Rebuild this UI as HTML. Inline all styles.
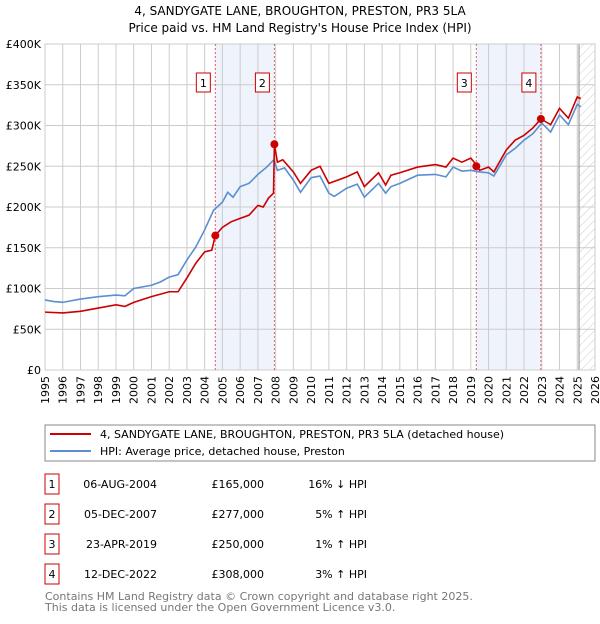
<!DOCTYPE html>
<html><head><meta charset="utf-8"><style>
body{margin:0;background:#fff;font-family:"DejaVu Sans","Liberation Sans",sans-serif;}
svg text{font-family:"DejaVu Sans","Liberation Sans",sans-serif;}
</style></head><body>
<svg id="c" width="600" height="620" xmlns="http://www.w3.org/2000/svg">
<defs><pattern id="hatch" patternUnits="userSpaceOnUse" width="6" height="6" patternTransform="rotate(45)"><line x1="0" y1="0" x2="0" y2="6" stroke="#ccc" stroke-width="1"/></pattern></defs>
<text x="300" y="15" text-anchor="middle" font-size="12">4, SANDYGATE LANE, BROUGHTON, PRESTON, PR3 5LA</text>
<text x="300" y="32" text-anchor="middle" font-size="12">Price paid vs. HM Land Registry's House Price Index (HPI)</text>
<g id="plot"></g>
<g>
<rect x="45" y="425" width="550" height="36" fill="#fff" stroke="#888"/>
<line x1="50" y1="434" x2="91" y2="434" stroke="#cc0000" stroke-width="2"/>
<text x="100" y="438" font-size="11">4, SANDYGATE LANE, BROUGHTON, PRESTON, PR3 5LA (detached house)</text>
<line x1="50" y1="451" x2="91" y2="451" stroke="#5b8fd0" stroke-width="2"/>
<text x="100" y="455" font-size="11">HPI: Average price, detached house, Preston</text>
</g>
<g id="table" font-size="11"></g>
<text x="45" y="600" font-size="11" fill="#777">Contains HM Land Registry data © Crown copyright and database right 2025.</text>
<text x="45" y="611" font-size="11" fill="#777">This data is licensed under the Open Government Licence v3.0.</text>
</svg>
<script>
const hpiYears=[1995,1995.5,1996,1997,1998,1999,1999.5,2000,2001,2001.5,2002,2002.5,2003,2003.5,2004,2004.5,2005,2005.3,2005.6,2006,2006.5,2007,2007.5,2007.9,2008.1,2008.5,2009,2009.4,2010,2010.5,2011,2011.3,2012,2012.6,2013,2013.8,2014.2,2014.5,2015,2016,2017,2017.6,2018,2018.5,2019,2019.5,2020,2020.3,2021,2021.5,2022,2022.5,2023,2023.5,2024,2024.5,2025,2025.2];
const hpiValues=[86,84,83,87,90,92,91,100,104,108,114,117,135,151,172,196,206,218,212,225,229,240,249,258,245,248,233,218,236,238,217,213,223,228,212,229,217,225,229,239,240,237,249,244,245,243,242,238,264,272,282,290,303,292,313,301,326,323];
const redYears=[1995,1996,1997,1998,1999,1999.5,2000,2001,2002,2002.5,2003,2003.5,2004,2004.4,2004.6,2005,2005.5,2006,2006.5,2007,2007.3,2007.6,2007.88,2007.93,2008.1,2008.4,2009,2009.4,2010,2010.5,2011,2012,2012.6,2013,2013.8,2014.2,2014.5,2015,2016,2017,2017.6,2018,2018.5,2019,2019.3,2019.5,2020,2020.3,2021,2021.5,2022,2022.5,2022.95,2023.5,2024,2024.5,2025,2025.2];
const redValues=[71,70,72,76,80,78,83,90,96,96,113,131,145,147,165,175,182,186,190,202,200,211,217,277,255,258,243,229,245,250,229,237,243,225,242,227,239,242,249,252,249,260,255,260,252,245,249,243,270,282,288,297,308,301,321,309,335,333];
const saleDates=[2004.6,2007.93,2019.31,2022.95];
const salePrices=[165,277,250,308];
const saleLabels=["1","2","3","4"];
const saleDateText=["06-AUG-2004","05-DEC-2007","23-APR-2019","12-DEC-2022"];
const salePriceText=["£165,000","£277,000","£250,000","£308,000"];
const saleHpiText=["16% ↓ HPI","5% ↑ HPI","1% ↑ HPI","3% ↑ HPI"];
const yTicks=[0,50,100,150,200,250,300,350,400];
const yTickLabels=["£0","£50K","£100K","£150K","£200K","£250K","£300K","£350K","£400K"];
const xTicks=[1995,1996,1997,1998,1999,2000,2001,2002,2003,2004,2005,2006,2007,2008,2009,2010,2011,2012,2013,2014,2015,2016,2017,2018,2019,2020,2021,2022,2023,2024,2025,2026];
const X0=45,X1=595,Y0=370,Y1=44;
const x=v=>X0+(v-1995)/(2026-1995)*(X1-X0);
const y=v=>Y0-v/400*(Y0-Y1);
const NS="http://www.w3.org/2000/svg";
const plot=document.getElementById('plot');
function mk(tag,attrs,parent){const e=document.createElementNS(NS,tag);for(const k in attrs)e.setAttribute(k,attrs[k]);(parent||plot).appendChild(e);return e;}
let s1=mk('rect',{x:x(saleDates[0]),y:Y1,width:x(saleDates[1])-x(saleDates[0]),height:Y0-Y1,fill:'#eef3fc'});


let s2=mk('rect',{x:x(saleDates[2]),y:Y1,width:x(saleDates[3])-x(saleDates[2]),height:Y0-Y1,fill:'#eef3fc'});


let h=mk('rect',{x:x(2025.1),y:Y1,width:X1-x(2025.1),height:Y0-Y1,fill:'url(#hatch)'});


yTicks.forEach((t,i)=>{
 mk('line',{x1:X0,x2:X1,y1:y(t),y2:y(t),stroke:'#ccc'});
 const tx=mk('text',{x:X0-4,y:y(t)+4,'text-anchor':'end','font-size':11});
 tx.textContent=yTickLabels[i];
 
 
});
xTicks.forEach(t=>{
 mk('line',{x1:x(t),x2:x(t),y1:Y1,y2:Y0,stroke:'#ccc'});
 const tx=mk('text',{x:x(t)+4,y:Y0+6,'text-anchor':'end','font-size':11,transform:`rotate(-90 ${x(t)+4} ${Y0+6})`});
 tx.textContent=t;
 
 
});
mk('line',{x1:x(2025.1),x2:x(2025.1),y1:Y1,y2:Y0,stroke:'#888'});
mk('rect',{x:X0,y:Y1,width:X1-X0,height:Y0-Y1,fill:'none',stroke:'#ccc'});
saleDates.forEach(d=>{mk('line',{x1:x(d),x2:x(d),y1:Y1,y2:Y0,stroke:'#e06060','stroke-dasharray':'2,2'});});
let hp=mk('polyline',{points:hpiYears.map((v,i)=>x(v)+','+y(hpiValues[i])).join(' '),fill:'none',stroke:'#5b8fd0','stroke-width':1.6});


let rp=mk('polyline',{points:redYears.map((v,i)=>x(v)+','+y(redValues[i])).join(' '),fill:'none',stroke:'#cc0000','stroke-width':1.6});


saleDates.forEach((d,i)=>{
 const c=mk('circle',{cx:x(d),cy:y(salePrices[i]),r:4,fill:'#cc0000'});
 
 
 const g=mk('g',{});
 
 
 mk('rect',{x:x(d)-19,y:73,width:14,height:19,fill:'#fff',stroke:'#cc0000'},g);
 const t=mk('text',{x:x(d)-12,y:87,'text-anchor':'middle','font-size':11},g);t.textContent=saleLabels[i];
});
const tb=document.getElementById('table');
saleLabels.forEach((l,i)=>{
 const yy=483+i*30;
 const g=mk('g',{},tb);
 
 
 mk('rect',{x:45,y:yy-9,width:14,height:20,fill:'#fff',stroke:'#cc0000'},g);
 let t=mk('text',{x:52,y:yy+5,'text-anchor':'middle'},g);t.textContent=l;
 t=mk('text',{x:157,y:yy+5,'text-anchor':'end'},g);t.textContent=saleDateText[i];
 t=mk('text',{x:264,y:yy+5,'text-anchor':'end'},g);t.textContent=salePriceText[i];
 t=mk('text',{x:367,y:yy+5,'text-anchor':'end'},g);t.textContent=saleHpiText[i];
});
</script>
</body></html>
